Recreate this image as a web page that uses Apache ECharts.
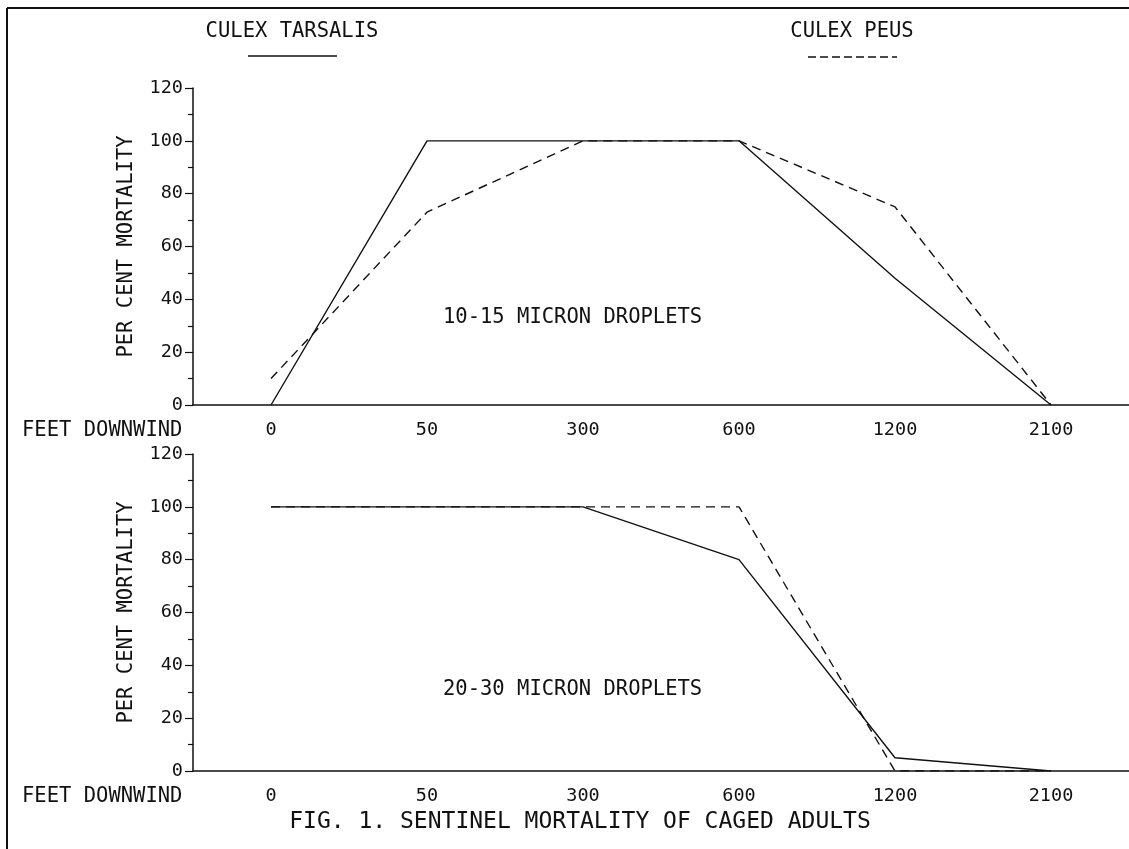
<!DOCTYPE html>
<html>
<head>
<meta charset="utf-8">
<title>Fig. 1 Sentinel mortality of caged adults</title>
<script src="https://cdn.jsdelivr.net/npm/echarts@6/dist/echarts.min.js"></script>
<style>
html, body { margin: 0; padding: 0; background: #fff; }
#chart { width: 1129px; height: 849px; }
</style>
</head>
<body>
<div id="chart"></div>
<script>
// feet downwind
var distances = ['0', '50', '300', '600', '1200', '2100'];
var yTicks = [0, 20, 40, 60, 80, 100, 120];

// 10-15 micron droplets
var tarsalisSmall = [0, 100, 100, 100, 48, 0];
var peusSmall = [10, 73, 100, 100, 75, 0];

// 20-30 micron droplets
var tarsalisLarge = [100, 100, 100, 80, 5, 0];
var peusLarge = [100, 100, 100, 100, 0, 0];

var FONT = '"DejaVu Sans Mono", monospace';
var INK = '#111';
var DASH = [9, 6];
var CAPTION = '20.5px ' + FONT;

function xAxisFor(idx) {
    return {
        gridIndex: idx,
        type: 'category',
        data: distances,
        boundaryGap: true,
        axisLine: { lineStyle: { color: INK, width: 1.5 } },
        axisTick: { show: false },
        axisLabel: { color: INK, fontFamily: FONT, fontSize: 18.5, margin: 16, interval: 0 },
        splitLine: { show: false }
    };
}

function yAxisFor(idx) {
    return {
        gridIndex: idx,
        type: 'value',
        min: yTicks[0],
        max: yTicks[yTicks.length - 1],
        interval: yTicks[1] - yTicks[0],
        name: 'PER CENT MORTALITY',
        nameLocation: 'middle',
        nameGap: 56,
        nameTextStyle: { color: INK, fontFamily: FONT, fontSize: 20.5 },
        axisLine: { show: true, lineStyle: { color: INK, width: 1.5 } },
        axisTick: { show: true, length: 8, lineStyle: { color: INK, width: 1.2 } },
        minorTick: { show: true, splitNumber: 2, length: 5, lineStyle: { color: INK, width: 1.2 } },
        axisLabel: { color: INK, fontFamily: FONT, fontSize: 18.5, margin: 10 },
        splitLine: { show: false }
    };
}

function lineSeries(idx, data, dashed) {
    return {
        type: 'line',
        xAxisIndex: idx,
        yAxisIndex: idx,
        data: data,
        symbol: 'none',
        lineStyle: { color: INK, width: 1.4, type: dashed ? DASH : 'solid' },
        animation: false
    };
}

function caption(text, x, y, align) {
    return {
        type: 'text',
        x: x,
        y: y,
        style: { text: text, fill: INK, font: CAPTION, textAlign: align || 'left', textVerticalAlign: 'middle' }
    };
}

var chart = echarts.init(document.getElementById('chart'));
chart.setOption({
    backgroundColor: '#fff',
    animation: false,
    title: {
        text: 'FIG. 1. SENTINEL MORTALITY OF CAGED ADULTS',
        left: 575,
        top: 806,
        textAlign: 'center',
        textStyle: { color: INK, fontFamily: FONT, fontSize: 23, fontWeight: 'normal' }
    },
    grid: [
        { left: 193, top: 88, width: 948, height: 317 },
        { left: 193, top: 454, width: 948, height: 317 }
    ],
    xAxis: [xAxisFor(0), xAxisFor(1)],
    yAxis: [yAxisFor(0), yAxisFor(1)],
    series: [
        lineSeries(0, tarsalisSmall, false),
        lineSeries(0, peusSmall, true),
        lineSeries(1, tarsalisLarge, false),
        lineSeries(1, peusLarge, true)
    ],
    graphic: [
        // frame
        { type: 'line', shape: { x1: 7, y1: 8, x2: 1129, y2: 8 }, style: { stroke: INK, lineWidth: 2 } },
        { type: 'line', shape: { x1: 7, y1: 8, x2: 7, y2: 849 }, style: { stroke: INK, lineWidth: 2 } },
        // legend
        caption('CULEX TARSALIS', 292, 32, 'center'),
        { type: 'line', shape: { x1: 248, y1: 56, x2: 337, y2: 56 }, style: { stroke: INK, lineWidth: 1.5 } },
        caption('CULEX PEUS', 852, 32, 'center'),
        { type: 'line', shape: { x1: 808, y1: 57, x2: 897, y2: 57 }, style: { stroke: INK, lineWidth: 1.5, lineDash: [8, 4] } },
        // panel notes
        caption('10-15 MICRON DROPLETS', 443, 318),
        caption('20-30 MICRON DROPLETS', 443, 690),
        // x axis captions
        caption('FEET DOWNWIND', 22, 431),
        caption('FEET DOWNWIND', 22, 797)
    ]
});
</script>
</body>
</html>
